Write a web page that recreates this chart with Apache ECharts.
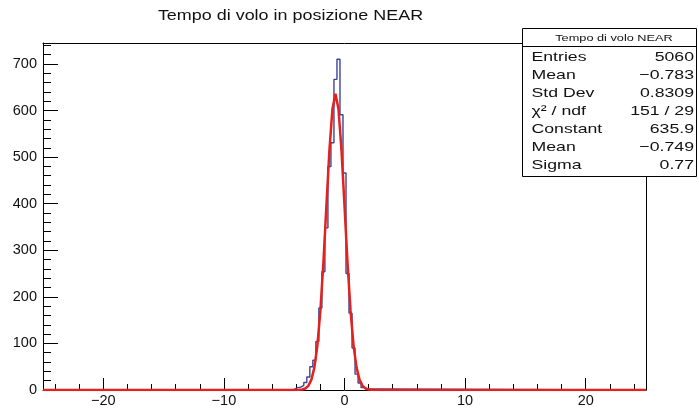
<!DOCTYPE html>
<html>
<head>
<meta charset="utf-8">
<script src="https://cdn.jsdelivr.net/npm/echarts@6.0.0/dist/echarts.min.js"></script>
<style>
  html, body { margin: 0; padding: 0; background: #ffffff; }
  #c { width: 699px; height: 408px; }
</style>
</head>
<body>
<div id="c"></div>
<script>
// ---- data ----
const chartTitle = 'Tempo di volo in posizione NEAR';
const statsTitle = 'Tempo di volo NEAR';
const statsLabels = ['Entries', 'Mean', 'Std Dev', 'χ² / ndf', 'Constant', 'Mean', 'Sigma'];
const statsValues = ['5060', '−0.783', '0.8309', '151 / 29', '635.9', '−0.749', '0.77'];

const xRange = [-25, 25];
const yRange = [0, 745];
const xMajorTicks = [-20, -10, 0, 10, 20];
const xMinorTicks = [-24, -22, -20, -18, -16, -14, -12, -10, -8, -6, -4, -2, 0, 2, 4, 6, 8, 10, 12, 14, 16, 18, 20, 22, 24];
const yMajorTicks = [0, 100, 200, 300, 400, 500, 600, 700];
const yMinorTicks = [0, 20, 40, 60, 80, 100, 120, 140, 160, 180, 200, 220, 240, 260, 280, 300, 320, 340, 360, 380, 400, 420, 440, 460, 480, 500, 520, 540, 560, 580, 600, 620, 640, 660, 680, 700, 720, 740];

// histogram: bins of width 0.25, first non-empty bin centred at -4.25
const binWidth = 0.25;
const firstBinLow = -4.375;
const counts = [2, 5, 6, 10, 16, 28, 50, 64, 104, 176, 254, 348, 480, 531, 667, 710,
                591, 466, 250, 165, 90, 34, 15, 5, 2];

// gaussian fit curve, sampled points
const fitX = [-4.25, -4.0, -3.75, -3.5, -3.25, -3.0, -2.75, -2.5, -2.25, -2.0, -1.75, -1.5, -1.25, -1.0, -0.75,
              -0.5, -0.25, 0.0, 0.25, 0.5, 0.75, 1.0, 1.25, 1.5, 1.75, 2.0, 2.25, 2.5, 2.75];
const fitY = [0, 0.1, 0.3, 1.1, 3.3, 8.9, 21.8, 48.1, 95.3, 170.3, 273.6, 395.7, 515.0, 603.3, 635.9,
              603.3, 515.0, 395.7, 273.6, 170.3, 95.3, 48.1, 21.8, 8.9, 3.3, 1.1, 0.3, 0.1, 0];

// ---- build series data ----
const histData = [[xRange[0], 0]];
counts.forEach((c, i) => histData.push([firstBinLow + i * binWidth, c]));
histData.push([firstBinLow + counts.length * binWidth, 0]);
histData.push([xRange[1], 0]);

const fitData = [[xRange[0], 0]];
fitX.forEach((x, i) => fitData.push([x, fitY[i]]));
fitData.push([xRange[1], 0]);

const FONT = "'Liberation Sans', Arial, Helvetica, sans-serif";
const TXT = '#111111';
const minusFmt = v => String(v).replace('-', '−');

// stats box graphics
const boxL = 522.5, boxT = 28.5, boxW = 174, boxH = 148, headH = 18;
const graphics = [
  { type: 'text', x: 290.5, y: 16, scaleX: 1.3, z: 100,
    style: { text: chartTitle, font: '13.8px ' + FONT, fill: TXT, textAlign: 'center', textVerticalAlign: 'middle' } },
  { type: 'rect', z: 100, shape: { x: boxL, y: boxT, width: boxW, height: boxH },
    style: { fill: '#ffffff', stroke: '#000000', lineWidth: 1 } },
  { type: 'line', z: 101, shape: { x1: boxL, y1: boxT + headH, x2: boxL + boxW, y2: boxT + headH },
    style: { stroke: '#000000', lineWidth: 1 } },
  { type: 'text', x: 614, y: boxT + headH / 2 + 0.5, scaleX: 1.3, z: 101,
    style: { text: statsTitle, font: '9.8px ' + FONT, fill: TXT, textAlign: 'center', textVerticalAlign: 'middle' } }
];
statsLabels.forEach((lab, i) => {
  const y = 57 + i * 18;
  graphics.push({ type: 'text', x: 531.5, y: y, scaleX: 1.3, z: 101,
    style: { text: lab, font: '13.6px ' + FONT, fill: TXT, textAlign: 'left', textVerticalAlign: 'middle' } });
  graphics.push({ type: 'text', x: 694, y: y, scaleX: 1.3, z: 101,
    style: { text: statsValues[i], font: '13.6px ' + FONT, fill: TXT, textAlign: 'right', textVerticalAlign: 'middle' } });
});

const option = {
  backgroundColor: '#ffffff',
  animation: false,
  grid: { left: 43, top: 43, width: 603, height: 347, containLabel: false },
  xAxis: [
    { type: 'value', min: xRange[0], max: xRange[1], position: 'bottom',
      axisLine: { show: true, onZero: false, lineStyle: { color: '#000', width: 1 } },
      axisTick: { show: true, inside: true, length: 12, customValues: xMajorTicks, lineStyle: { color: '#000', width: 1 } },
      axisLabel: { show: true, customValues: xMajorTicks, margin: 3, fontSize: 14.5, fontFamily: FONT, color: TXT, formatter: minusFmt },
      splitLine: { show: false } },
    { type: 'value', min: xRange[0], max: xRange[1], position: 'bottom',
      axisLine: { show: false, onZero: false },
      axisTick: { show: true, inside: true, length: 6, customValues: xMinorTicks, lineStyle: { color: '#000', width: 1 } },
      axisLabel: { show: false }, splitLine: { show: false } },
    { type: 'value', min: xRange[0], max: xRange[1], position: 'top',
      axisLine: { show: true, onZero: false, lineStyle: { color: '#000', width: 1 } },
      axisTick: { show: false }, axisLabel: { show: false }, splitLine: { show: false } }
  ],
  yAxis: [
    { type: 'value', min: yRange[0], max: yRange[1], position: 'left',
      axisLine: { show: true, onZero: false, lineStyle: { color: '#000', width: 1 } },
      axisTick: { show: true, inside: true, length: 15, customValues: yMajorTicks, lineStyle: { color: '#000', width: 1 } },
      axisLabel: { show: true, customValues: yMajorTicks, margin: 6, fontSize: 14.5, fontFamily: FONT, color: TXT },
      splitLine: { show: false } },
    { type: 'value', min: yRange[0], max: yRange[1], position: 'left',
      axisLine: { show: false, onZero: false },
      axisTick: { show: true, inside: true, length: 8, customValues: yMinorTicks, lineStyle: { color: '#000', width: 1 } },
      axisLabel: { show: false }, splitLine: { show: false } },
    { type: 'value', min: yRange[0], max: yRange[1], position: 'right',
      axisLine: { show: true, onZero: false, lineStyle: { color: '#000', width: 1 } },
      axisTick: { show: false }, axisLabel: { show: false }, splitLine: { show: false } }
  ],
  series: [
    { type: 'line', name: 'hist', xAxisIndex: 0, yAxisIndex: 0, data: histData, step: 'end',
      symbol: 'none', lineStyle: { color: '#3d4499', width: 1.4 }, z: 3, clip: true },
    { type: 'line', name: 'fit', xAxisIndex: 0, yAxisIndex: 0, data: fitData, smooth: false,
      symbol: 'none', lineStyle: { color: '#e3221d', width: 2.5 }, z: 4, clip: true }
  ],
  graphic: { elements: graphics }
};

const chart = echarts.init(document.getElementById('c'), null, { renderer: 'canvas' });
chart.setOption(option);
</script>
</body>
</html>
